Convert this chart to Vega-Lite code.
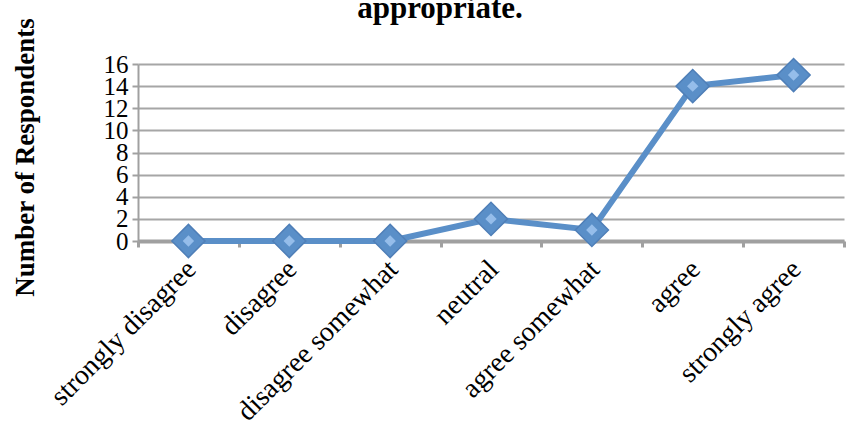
{
  "$schema": "https://vega.github.io/schema/vega-lite/v6.json",
  "width": 706,
  "height": 177,
  "autosize": {"type": "none"},
  "padding": {"left": 138, "top": 64, "right": 5, "bottom": 196},
  "background": "white",
  "title": {
    "text": "appropriate.",
    "font": "Liberation Serif",
    "fontSize": 31,
    "fontWeight": "bold",
    "color": "#000000",
    "anchor": "middle",
    "frame": "group",
    "dx": -51,
    "baseline": "alphabetic",
    "offset": -32
  },
  "data": {
    "values": [
      {"response": "strongly disagree", "count": 0},
      {"response": "disagree", "count": 0},
      {"response": "disagree somewhat", "count": 0},
      {"response": "neutral", "count": 2},
      {"response": "agree somewhat", "count": 1},
      {"response": "agree", "count": 14},
      {"response": "strongly agree", "count": 15}
    ]
  },
  "encoding": {
    "x": {
      "field": "response",
      "type": "nominal",
      "sort": null,
      "scale": {"paddingInner": 0, "paddingOuter": 0},
      "axis": {
        "title": null,
        "labelAngle": -45,
        "labelAlign": "right",
        "labelBaseline": "top",
        "labelFont": "Liberation Serif",
        "labelFontSize": 28,
        "labelColor": "#000000",
        "labelPadding": 8,
        "labelOffset": -7,
        "labelOverlap": false,
        "labelLimit": 400,
        "domainColor": "#a0a0a0",
        "domainWidth": 4,
        "tickColor": "#a0a0a0",
        "tickWidth": 3,
        "tickSize": 6,
        "tickBand": "extent",
        "grid": false
      }
    },
    "y": {
      "field": "count",
      "type": "quantitative",
      "scale": {"domain": [0, 16], "nice": false},
      "axis": {
        "title": "Number of Respondents",
        "titleFont": "Liberation Serif",
        "titleFontSize": 27,
        "titleFontWeight": "bold",
        "titleColor": "#000000",
        "titleX": -113,
        "titleY": 93,
        "titleAngle": -90,
        "titleAlign": "center",
        "titleBaseline": "middle",
        "values": [0, 2, 4, 6, 8, 10, 12, 14, 16],
        "labelOverlap": false,
        "labelFont": "Liberation Serif",
        "labelFontSize": 25,
        "labelColor": "#000000",
        "labelPadding": 4,
        "labelBaseline": "middle",
        "domainColor": "#a0a0a0",
        "domainWidth": 2,
        "tickColor": "#a0a0a0",
        "tickWidth": 2,
        "tickSize": 6,
        "gridColor": "#a6a6a6",
        "gridWidth": 2
      }
    }
  },
  "layer": [
    {
      "mark": {"type": "line", "color": "#5a8fc8", "strokeWidth": 6}
    },
    {
      "mark": {"type": "point", "shape": "diamond", "filled": true, "size": 1100, "color": "#5a8fc8", "stroke": "#4f7fb8", "strokeWidth": 1.5, "opacity": 1}
    },
    {
      "mark": {"type": "point", "shape": "diamond", "filled": true, "size": 130, "color": "#95bdea", "opacity": 1}
    }
  ],
  "config": {
    "view": {"stroke": null}
  }
}
